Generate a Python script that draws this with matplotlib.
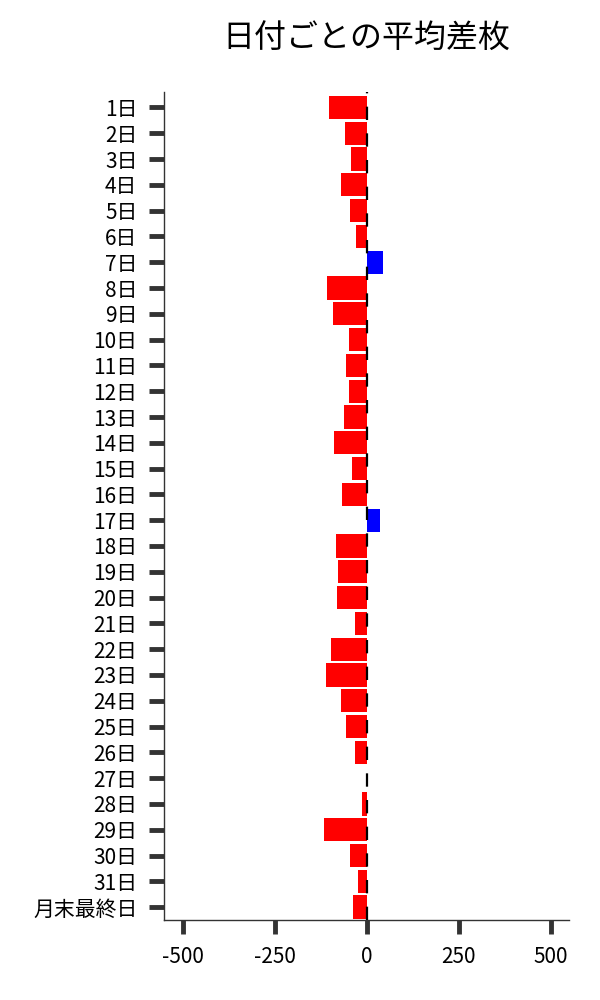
import matplotlib
matplotlib.use("Agg")
import matplotlib.pyplot as plt

plt.rcParams["font.family"] = ["Noto Sans CJK JP", "DejaVu Sans"]

days = [f"{d}日" for d in range(1, 32)] + ["月末最終日"]
avg_diff = [
    -103, -60, -43, -71, -46, -30, 45, -109, -92, -49,
    -57, -49, -62, -90, -41, -68, 37, -84, -79, -82,
    -33, -98, -111, -71, -57, -33, 1, -14, -117, -46,
    -24, -38,
]
xticks = [-500, -250, 0, 250, 500]

colors = ["blue" if v > 0 else "red" for v in avg_diff]

fig = plt.figure(figsize=(6, 10), dpi=100)
ax = fig.add_axes([0.273, 0.08, 0.675, 0.828])

ypos = list(range(len(days)))
ax.barh(ypos, avg_diff, height=0.9, color=colors, zorder=2)
ax.axvline(0, color="black", linewidth=1.6, linestyle=(0, (6, 6)), zorder=3)

ax.set_yticks(ypos)
ax.set_yticklabels(days)
ax.set_ylim(len(days) - 0.5, -0.6)
ax.set_xlim(-552, 549)
ax.set_xticks(xticks)
ax.set_xticklabels([str(t) for t in xticks])

ax.tick_params(axis="y", length=11, width=3.5, color="#333333", pad=8, labelsize=15)
ax.tick_params(axis="x", length=10, width=3.5, color="#333333", pad=9, labelsize=15)

for side in ("top", "right"):
    ax.spines[side].set_visible(False)
for side in ("left", "bottom"):
    ax.spines[side].set_color("#333333")
    ax.spines[side].set_linewidth(1.0)

fig.suptitle("日付ごとの平均差枚", x=0.61, y=0.977, fontsize=23)

fig.savefig("out.png", dpi=100)
